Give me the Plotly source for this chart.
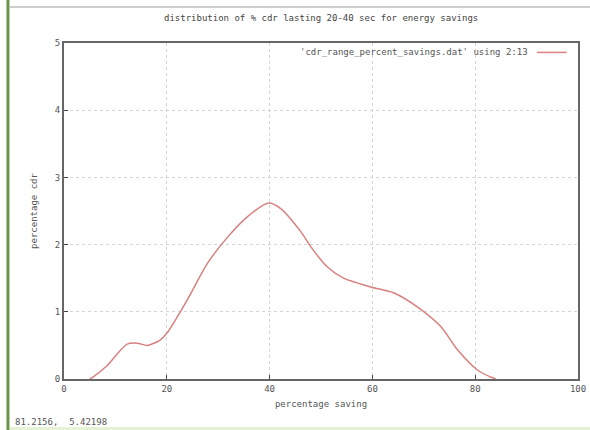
import plotly.graph_objects as go

title_text = "distribution of % cdr lasting 20-40 sec for energy savings"
legend_label = "'cdr_range_percent_savings.dat' using 2:13"
x_label = "percentage saving"
y_label = "percentage cdr"
status_text = "81.2156,  5.42198"

saving = [5.0, 5.7, 8.4, 12.3, 14.5, 16.2, 18.7, 20.0, 24.0, 27.9, 31.7, 35.6, 39.8,
          42.1, 46.0, 48.0, 51.2, 54.4, 59.7, 64.2, 68.8, 73.3, 76.6, 80.5, 83.0, 84.0]
pct_cdr = [0.0, 0.03, 0.2, 0.52, 0.53, 0.5, 0.58, 0.68, 1.18, 1.72, 2.1, 2.41, 2.62,
           2.54, 2.2, 1.97, 1.67, 1.5, 1.37, 1.28, 1.07, 0.78, 0.43, 0.13, 0.03, 0.0]

x_ticks = [0, 20, 40, 60, 80, 100]
y_ticks = [0, 1, 2, 3, 4, 5]

curve_color = "#d98080"
font_fam = "DejaVu Sans Mono, monospace"
txt_color = "#555555"

fig = go.Figure()
fig.add_trace(go.Scatter(x=saving, y=pct_cdr, mode="lines",
                         line=dict(color=curve_color, width=1.5, shape="spline", smoothing=0.8),
                         name=legend_label, showlegend=False, hoverinfo="skip"))

axis_common = dict(showline=True, linecolor="#666666", linewidth=2, mirror=True,
                   ticks="inside", ticklen=4, tickcolor="#444444", automargin=False,
                   showgrid=True, gridcolor="#d4d4d4", griddash="dot", gridwidth=1,
                   zeroline=False, tickfont=dict(family=font_fam, size=9, color=txt_color))

fig.update_xaxes(range=[0, 100], tickvals=x_ticks,
                 title=dict(text=x_label, font=dict(family=font_fam, size=9, color=txt_color), standoff=8),
                 **axis_common)
fig.update_yaxes(range=[0, 5], tickvals=y_ticks,
                 title=dict(text=y_label, font=dict(family=font_fam, size=9, color=txt_color), standoff=16),
                 **axis_common)

# legend entry (gnuplot style, inside top-right)
fig.add_annotation(xref="paper", yref="paper", x=0.906, y=0.972, xanchor="right", yanchor="middle",
                   text=legend_label, showarrow=False, font=dict(family=font_fam, size=9, color=txt_color))
fig.add_shape(type="line", xref="paper", yref="paper", x0=0.92, x1=0.978, y0=0.972, y1=0.972,
              line=dict(color=curve_color, width=1.5))

# title
fig.add_annotation(xref="paper", yref="paper", x=0.5, y=1.073, xanchor="center", yanchor="middle",
                   text=title_text, showarrow=False, font=dict(family=font_fam, size=9, color="#444444"))

# status text bottom-left
fig.add_annotation(xref="paper", yref="paper", x=-0.1, y=-0.128, xanchor="left", yanchor="middle",
                   text=status_text, showarrow=False, font=dict(family=font_fam, size=9, color=txt_color))

# window decorations
fig.add_shape(type="line", xref="paper", yref="paper", x0=-0.109, x1=-0.109, y0=-0.16, y1=1.13,
              line=dict(color="#6a9446", width=3))
fig.add_shape(type="line", xref="paper", yref="paper", x0=-0.105, x1=1.03, y0=1.107, y1=1.107,
              line=dict(color="#bdbdbd", width=1.5))
fig.add_shape(type="line", xref="paper", yref="paper", x0=-0.105, x1=1.03, y0=-0.147, y1=-0.147,
              line=dict(color="#e6f2d6", width=3))

fig.update_layout(width=590, height=430, margin=dict(l=64, r=12, t=43, b=51, autoexpand=False),
                  paper_bgcolor="white", plot_bgcolor="white", showlegend=False)

fig.write_html("out.html", config={"displayModeBar": False, "staticPlot": True},
               post_script="document.body.style.margin='0px';document.body.style.overflow='hidden';")
